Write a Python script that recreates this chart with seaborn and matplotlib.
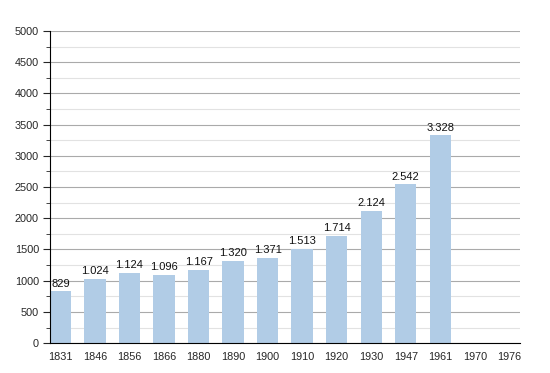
import numpy as np
import pandas as pd
import matplotlib
matplotlib.use('Agg')
import matplotlib.pyplot as plt
import seaborn as sns
from matplotlib.ticker import MultipleLocator

years = ['1831', '1846', '1856', '1866', '1880', '1890', '1900', '1910',
         '1920', '1930', '1947', '1961', '1970', '1976']
population = [829, 1024, 1124, 1096, 1167, 1320, 1371, 1513,
              1714, 2124, 2542, 3328, np.nan, np.nan]

df = pd.DataFrame({'year': years, 'pop': population})

sns.set_style('white')
plt.rcParams['font.family'] = ['Liberation Sans', 'DejaVu Sans']

fig = plt.figure(figsize=(5.5, 3.73), dpi=100)
ax = fig.add_axes([0.091, 0.080, 0.854, 0.837])

ax.yaxis.set_major_locator(MultipleLocator(500))
ax.yaxis.set_minor_locator(MultipleLocator(250))
ax.grid(axis='y', which='major', color='#aaaaaa', linewidth=0.8)
ax.grid(axis='y', which='minor', color='#e2e2e2', linewidth=0.8)
ax.set_axisbelow(True)

sns.barplot(data=df, x='year', y='pop', order=years, color='#b1cce6',
            saturation=1, width=0.62, linewidth=0, ax=ax)

for i, v in enumerate(population):
    if not np.isnan(v):
        lab = f'{int(v):,}'.replace(',', '.')
        ax.text(i, v + 45, lab, ha='center', va='bottom', fontsize=8, color='#111111')

ax.set_xlim(-0.3, 13.3)
ax.set_ylim(0, 5000)
ax.set_xlabel('')
ax.set_ylabel('')
for s in ['top', 'right']:
    ax.spines[s].set_visible(False)
ax.spines['left'].set_color('black')
ax.spines['bottom'].set_color('black')
ax.tick_params(axis='y', which='major', left=True, length=5, labelsize=7.8, pad=3)
ax.tick_params(axis='y', which='minor', left=True, length=3)
ax.tick_params(axis='x', bottom=False, labelsize=7.8, pad=3)

fig.savefig('out.png', dpi=100)
